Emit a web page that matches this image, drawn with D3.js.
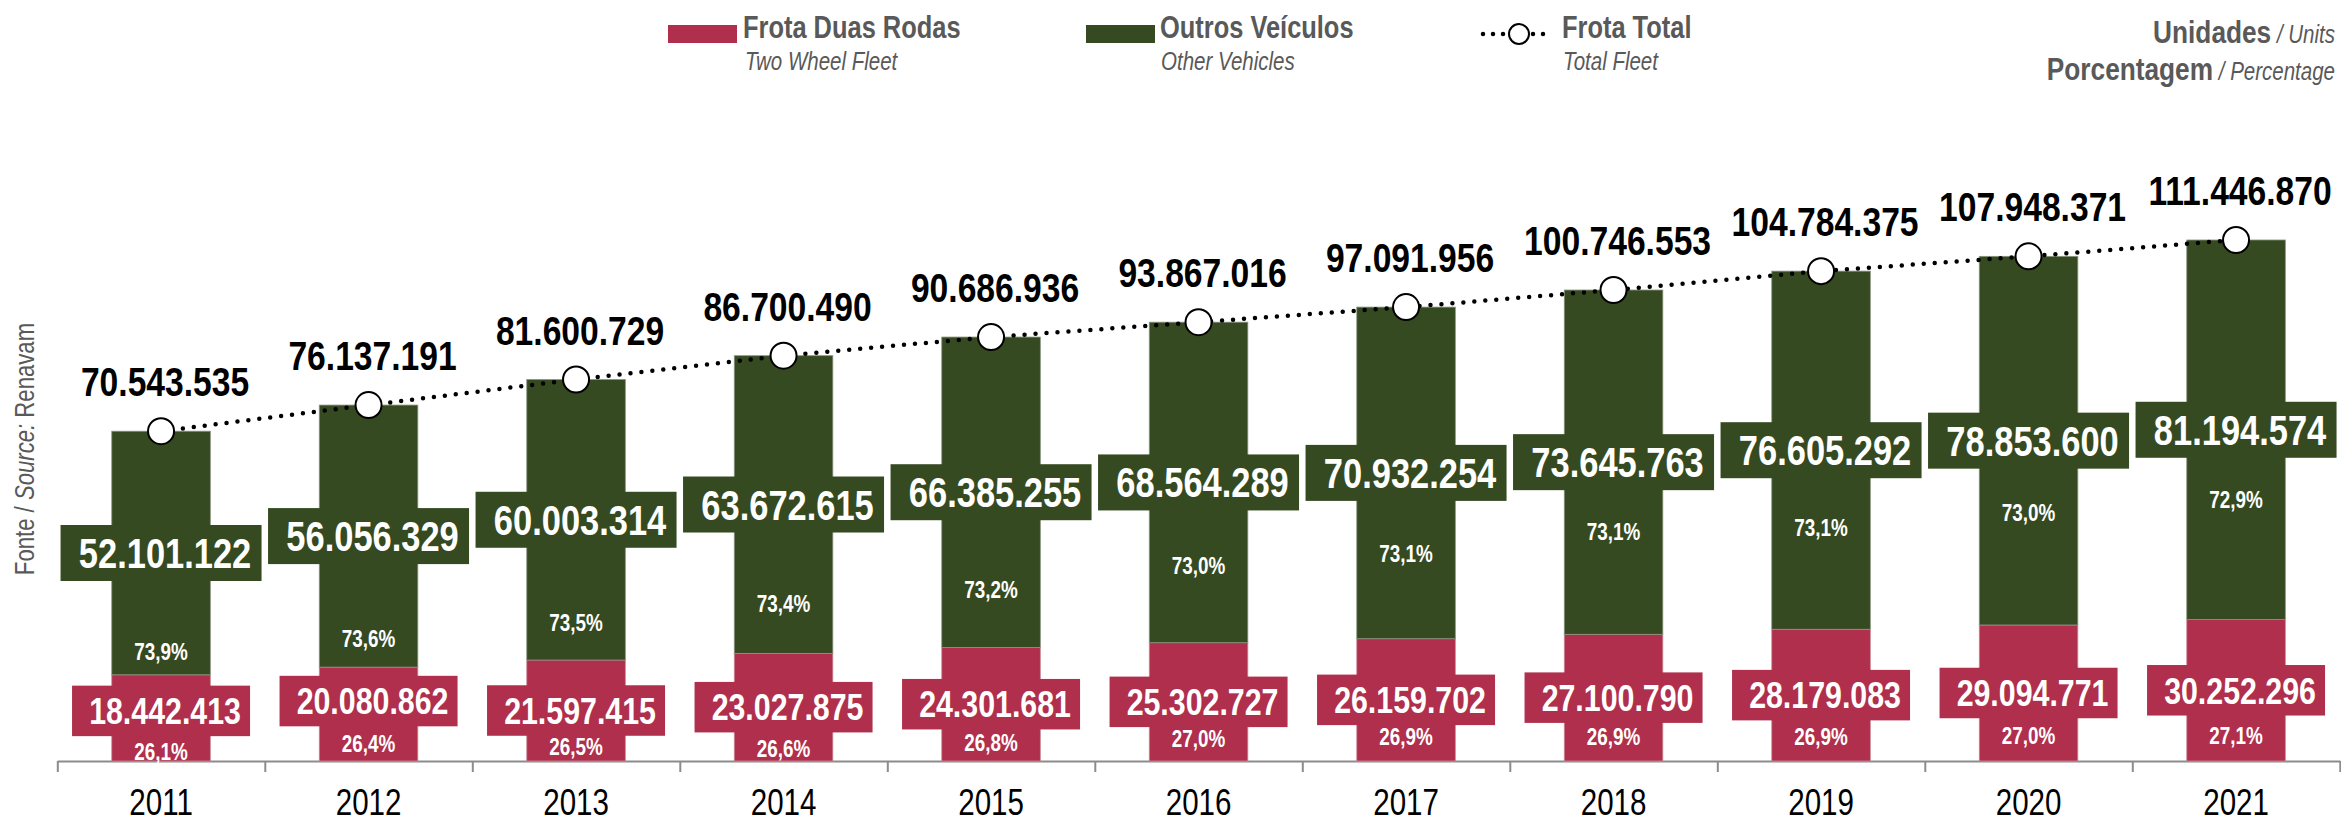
<!DOCTYPE html>
<html>
<head>
<meta charset="utf-8">
<script src="https://cdn.jsdelivr.net/npm/d3@7"></script>
<style>
  html, body { margin: 0; padding: 0; background: #ffffff; }
  svg { display: block; }
  text { font-family: 'Liberation Sans Narrow', 'Arial Narrow', sans-serif; }
</style>
</head>
<body>
<svg id="chart" width="2341" height="823"></svg>
<script>
// ---------------- DATA ----------------
const years = ['2011','2012','2013','2014','2015','2016','2017','2018','2019','2020','2021'];
const twoWheel = [18442413, 20080862, 21597415, 23027875, 24301681, 25302727, 26159702, 27100790, 28179083, 29094771, 30252296];
const otherVehicles = [52101122, 56056329, 60003314, 63672615, 66385255, 68564289, 70932254, 73645763, 76605292, 78853600, 81194574];
const totalFleet = [70543535, 76137191, 81600729, 86700490, 90686936, 93867016, 97091956, 100746553, 104784375, 107948371, 111446870];
const twoWheelPct = ['26,1%','26,4%','26,5%','26,6%','26,8%','27,0%','26,9%','26,9%','26,9%','27,0%','27,1%'];
const otherPct = ['73,9%','73,6%','73,5%','73,4%','73,2%','73,0%','73,1%','73,1%','73,1%','73,0%','72,9%'];

// ---------------- LAYOUT (label anchors, in data units) ----------------
const otherPctAnchor = [23.3e6, 26.2e6, 29.6e6, 33.6e6, 36.6e6, 41.7e6, 44.3e6, 49.0e6, 49.8e6, 53.0e6, 55.8e6];
const twoPctAnchor   = [1.9e6, 3.6e6, 3.1e6, 2.6e6, 3.8e6, 4.7e6, 5.1e6, 5.1e6, 5.1e6, 5.5e6, 5.5e6];
const twoBoxNudge    = [-7, -13, 0, 0, 0, 0, 0, 0, 0, 0, 0];

const RED = '#AF2F4C';
const GREEN = '#364A21';
const GRAY = '#595959';

const W = 2341, H = 823;
const svg = d3.select('#chart');
svg.append('rect').attr('width', W).attr('height', H).attr('fill', '#fff');

const ptBR = d3.formatLocale({decimal: ',', thousands: '.', grouping: [3], currency: ['R$', '']});
const fmt = ptBR.format(',d');

const x = d3.scaleBand().domain(years).range([57.3, 2339.8]).paddingInner(0.525).paddingOuter(0.2625);
const y = d3.scaleLinear().domain([0, 120e6]).range([761, 200]);
const bw = x.bandwidth();
const cx = d => x(d) + bw / 2;

const rows = years.map((yr, i) => ({
  yr, i, two: twoWheel[i], other: otherVehicles[i], total: totalFleet[i],
  twoPct: twoPctAnchor[i], otherPct: otherPctAnchor[i]
}));

// ---------- Axis ----------
const xEdge = d3.scaleLinear().domain([0, years.length]).range(x.range());
const axisG = svg.append('g').attr('transform', `translate(0,${y(0)})`)
  .call(d3.axisBottom(xEdge).tickValues(d3.range(years.length + 1)).tickFormat('').tickSize(11).tickSizeOuter(0));
axisG.selectAll('path, line').attr('stroke', '#8c8c8c').attr('stroke-width', 2);

const labG = svg.append('g').attr('transform', `translate(0,${y(0)})`)
  .call(d3.axisBottom(x).tickSize(0).tickPadding(0));
labG.select('.domain').remove();
labG.selectAll('text').attr('y', 54).attr('dy', 0).attr('font-size', 36).attr('fill', '#000')
  .attr('font-family', "'Liberation Sans Narrow', 'Arial Narrow', sans-serif");

// ---------- Bars ----------
svg.append('g').selectAll('rect').data(rows).join('rect')
  .attr('x', d => x(d.yr)).attr('width', bw)
  .attr('y', d => y(d.two)).attr('height', d => y(0) - y(d.two))
  .attr('fill', RED).attr('stroke', '#c98a97').attr('stroke-width', 0.8);
svg.append('g').selectAll('rect').data(rows).join('rect')
  .attr('x', d => x(d.yr)).attr('width', bw)
  .attr('y', d => y(d.total)).attr('height', d => y(d.two) - y(d.total))
  .attr('fill', GREEN).attr('stroke', '#8a9480').attr('stroke-width', 0.8);

// ---------- Total line ----------
const line = d3.line().x(d => cx(d.yr)).y(d => y(d.total));
svg.append('path').datum(rows).attr('d', line)
  .attr('fill', 'none').attr('stroke', '#000').attr('stroke-width', 4.5)
  .attr('stroke-linecap', 'round').attr('stroke-dasharray', '0 11');

// ---------- Green value boxes ----------
const gW = 201, gH = 56;
const gBox = svg.append('g').selectAll('g').data(rows).join('g')
  .attr('transform', d => `translate(${cx(d.yr)},${(y(d.total) + y(d.two)) / 2})`);
gBox.append('rect').attr('x', -gW / 2).attr('y', -gH / 2).attr('width', gW).attr('height', gH).attr('fill', GREEN);
gBox.append('text').attr('text-anchor', 'middle').attr('x', 4).attr('y', 42 * 0.358)
  .attr('font-size', 42).attr('font-weight', 'bold').attr('fill', '#fff').text(d => fmt(d.other));

// ---------- Red value boxes ----------
const rW = 178, rH = 50.5;
const rBox = svg.append('g').selectAll('g').data(rows).join('g')
  .attr('transform', d => `translate(${cx(d.yr)},${(y(d.two) + y(0)) / 2 + twoBoxNudge[d.i]})`);
rBox.append('rect').attr('x', -rW / 2).attr('y', -rH / 2).attr('width', rW).attr('height', rH).attr('fill', RED);
rBox.append('text').attr('text-anchor', 'middle').attr('x', 4).attr('y', 37 * 0.358)
  .attr('font-size', 37).attr('font-weight', 'bold').attr('fill', '#fff').text(d => fmt(d.two));

// ---------- Percent labels ----------
svg.append('g').selectAll('text').data(rows).join('text')
  .attr('x', d => cx(d.yr)).attr('y', d => y(d.otherPct) + 23 * 0.358)
  .attr('text-anchor', 'middle').attr('font-size', 23).attr('font-weight', 'bold').attr('fill', '#fff')
  .text(d => otherPct[d.i]);
svg.append('g').selectAll('text').data(rows).join('text')
  .attr('x', d => cx(d.yr)).attr('y', d => y(d.twoPct) + 23 * 0.358)
  .attr('text-anchor', 'middle').attr('font-size', 23).attr('font-weight', 'bold').attr('fill', '#fff')
  .text(d => twoWheelPct[d.i]);

// ---------- Circles ----------
svg.append('g').selectAll('circle').data(rows).join('circle')
  .attr('cx', d => cx(d.yr)).attr('cy', d => y(d.total)).attr('r', 13)
  .attr('fill', '#fff').attr('stroke', '#000').attr('stroke-width', 2);

// ---------- Total labels ----------
svg.append('g').selectAll('text').data(rows).join('text')
  .attr('x', d => cx(d.yr) + 4).attr('y', d => y(d.total) - 35)
  .attr('text-anchor', 'middle').attr('font-size', 41).attr('font-weight', 'bold').attr('fill', '#000')
  .text(d => fmt(d.total));

// ---------- Legend ----------
const leg = svg.append('g');
leg.append('rect').attr('x', 668).attr('y', 25).attr('width', 69).attr('height', 18).attr('fill', RED);
leg.append('text').attr('x', 743).attr('y', 38).attr('font-size', 31).attr('font-weight', 'bold').attr('fill', GRAY).text('Frota Duas Rodas');
leg.append('text').attr('x', 745).attr('y', 70).attr('font-size', 25).attr('font-style', 'italic').attr('fill', GRAY).text('Two Wheel Fleet');
leg.append('rect').attr('x', 1086).attr('y', 25).attr('width', 69).attr('height', 18).attr('fill', GREEN);
leg.append('text').attr('x', 1160).attr('y', 38).attr('font-size', 31).attr('font-weight', 'bold').attr('fill', GRAY).text('Outros Veículos');
leg.append('text').attr('x', 1161).attr('y', 70).attr('font-size', 25).attr('font-style', 'italic').attr('fill', GRAY).text('Other Vehicles');
leg.append('line').attr('x1', 1483).attr('x2', 1550).attr('y1', 34).attr('y2', 34)
  .attr('stroke', '#000').attr('stroke-width', 4.5).attr('stroke-linecap', 'round').attr('stroke-dasharray', '0 10');
leg.append('circle').attr('cx', 1519).attr('cy', 34).attr('r', 10).attr('fill', '#fff').attr('stroke', '#000').attr('stroke-width', 2);
leg.append('text').attr('x', 1562).attr('y', 38).attr('font-size', 31).attr('font-weight', 'bold').attr('fill', GRAY).text('Frota Total');
leg.append('text').attr('x', 1563).attr('y', 70).attr('font-size', 25).attr('font-style', 'italic').attr('fill', GRAY).text('Total Fleet');

const u1 = leg.append('text').attr('x', 2335).attr('y', 43).attr('text-anchor', 'end').attr('fill', GRAY);
u1.append('tspan').attr('font-size', 32).attr('font-weight', 'bold').text('Unidades');
u1.append('tspan').attr('font-size', 25).attr('font-style', 'italic').text(' / Units');
const u2 = leg.append('text').attr('x', 2335).attr('y', 80).attr('text-anchor', 'end').attr('fill', GRAY);
u2.append('tspan').attr('font-size', 32).attr('font-weight', 'bold').text('Porcentagem');
u2.append('tspan').attr('font-size', 25).attr('font-style', 'italic').text(' / Percentage');

// ---------- Source ----------
const src = svg.append('text').attr('transform', 'translate(34,449) rotate(-90)').attr('text-anchor', 'middle')
  .attr('font-size', 27).attr('fill', GRAY);
src.append('tspan').text('Fonte / ');
src.append('tspan').attr('font-style', 'italic').text('Source:');
src.append('tspan').text(' Renavam');

// ---------- Narrow font fallback ----------
(function () {
  const t = svg.append('text').attr('font-size', 100).attr('font-family', "'Liberation Sans Narrow', monospace").text('0000000000');
  const w = t.node().getComputedTextLength();
  t.remove();
  if (w > 520) {
    svg.selectAll('text').each(function () {
      const el = d3.select(this);
      el.attr('font-family', "'Liberation Sans', Arial, sans-serif");
      const len = this.getComputedTextLength();
      el.attr('textLength', len * 0.82).attr('lengthAdjust', 'spacingAndGlyphs');
    });
  }
})();
</script>
</body>
</html>
